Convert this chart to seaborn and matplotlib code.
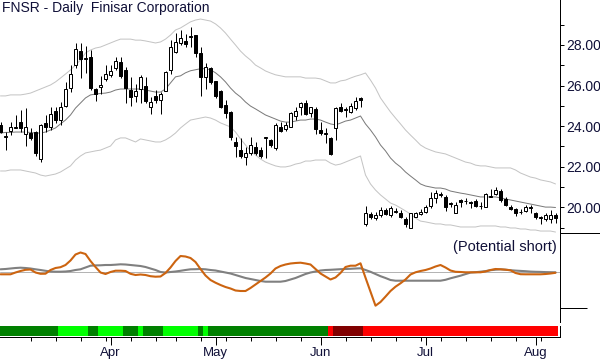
import matplotlib
matplotlib.use("Agg")
import matplotlib.pyplot as plt
import matplotlib.lines as mlines
import numpy as np
import pandas as pd
import seaborn as sns

# trading days on the chart (Feb 28 - Aug 7 2014)
holidays = ['2014-04-18', '2014-05-26', '2014-07-04']
days = pd.bdate_range('2014-02-28', '2014-08-07')
days = days[~days.isin(pd.to_datetime(holidays))]

month_starts = ['2014-04-01', '2014-05-01', '2014-06-02', '2014-07-01', '2014-08-01']
month_labels = ['Apr', 'May', 'Jun', 'Jul', 'Aug']

opens = [24.05, 23.45, 23.75, 23.9, 24.2, 23.6, 23.66, 23.7, 22.4, 24.15,
         23.95, 24.75, 24.3, 25.0, 25.9, 27.0, 27.7, 27.3, 27.4, 25.85,
         25.95, 26.3, 26.5, 26.85, 27.15, 26.75, 25.8, 25.5, 25.85, 26.0,
         24.95, 25.5, 25.3, 25.75, 26.75, 27.65, 28.1, 28.2, 28.4, 28.5,
         27.6, 26.4, 26.85, 26.25, 25.75, 25.05, 24.7, 23.2, 22.8, 22.5,
         22.7, 22.95, 22.8, 23.4, 23.3, 22.9, 23.95, 23.85, 23.95, 24.5,
         24.95, 25.15, 24.65, 24.85, 23.8, 23.6, 23.4, 23.9, 24.95, 24.8,
         24.7, 24.9, 25.4, 19.2, 19.65, 19.45, 19.6, 19.85, 19.6, 19.75,
         19.7, 19.4, 19.0, 19.5, 19.65, 19.75, 20.05, 20.45, 20.6, 20.5,
         20.15, 19.7, 20.35, 20.3, 20.25, 20.3, 20.05, 20.0, 20.5, 20.65,
         20.8, 20.4, 20.0, 19.9, 19.75, 19.8, 19.98, 19.7, 19.48, 19.4,
         19.4, 19.6]
highs = [24.2, 23.7, 24.2, 24.55, 24.8, 24.9, 23.9, 23.75, 24.1, 24.55,
         24.95, 24.95, 25.2, 26.2, 27.0, 28.1, 28.1, 27.95, 27.75, 25.9,
         26.45, 27.0, 27.0, 27.4, 27.4, 26.9, 26.4, 26.1, 26.5, 26.4,
         25.45, 25.8, 25.7, 26.7, 28.25, 28.6, 28.75, 28.55, 28.9, 28.5,
         27.9, 27.1, 26.9, 26.25, 25.8, 25.3, 24.75, 23.45, 23.4, 22.95,
         23.45, 23.2, 22.95, 23.45, 23.35, 24.15, 24.2, 24.2, 24.7, 24.95,
         25.2, 25.3, 24.95, 24.95, 24.2, 23.9, 23.45, 24.95, 25.15, 24.95,
         25.15, 25.45, 25.45, 20.05, 19.75, 19.75, 20.0, 19.95, 20.05, 19.95,
         19.85, 19.5, 19.7, 19.75, 19.9, 20.1, 20.75, 20.85, 20.75, 20.6,
         20.25, 20.25, 20.4, 20.45, 20.3, 20.4, 20.25, 20.7, 20.9, 21.0,
         20.9, 20.5, 20.1, 19.95, 19.9, 20.1, 20.1, 19.75, 19.55, 19.7,
         19.85, 19.7]
lows = [23.65, 22.8, 23.55, 23.9, 23.7, 23.0, 23.3, 22.55, 22.25, 23.7,
        23.8, 24.15, 24.05, 24.95, 25.7, 26.85, 26.35, 26.6, 25.8, 25.25,
        25.6, 26.25, 26.4, 26.75, 26.35, 25.15, 25.0, 25.2, 25.15, 25.15,
        24.6, 25.15, 24.6, 25.75, 26.55, 27.6, 28.0, 27.9, 27.9, 27.4,
        25.5, 25.85, 26.1, 25.4, 24.9, 24.4, 23.3, 22.5, 22.45, 22.1,
        22.6, 22.6, 22.45, 22.45, 22.95, 22.8, 23.7, 23.75, 23.95, 24.3,
        24.55, 24.55, 24.45, 23.6, 23.55, 23.15, 22.6, 23.3, 24.7, 24.45,
        24.65, 24.8, 24.95, 19.1, 19.4, 19.35, 19.5, 19.6, 19.5, 19.7,
        19.45, 19.05, 19.0, 19.5, 19.6, 19.7, 19.95, 20.2, 20.5, 19.8,
        20.0, 19.7, 20.0, 20.15, 19.95, 20.0, 19.9, 20.0, 20.5, 20.6,
        20.25, 20.05, 19.85, 19.55, 19.65, 19.75, 19.7, 19.4, 19.2, 19.3,
        19.25, 19.25]
closes = [23.7, 23.5, 23.95, 23.98, 23.9, 23.95, 23.4, 22.7, 24.05, 23.95,
          24.6, 24.3, 24.95, 25.85, 26.55, 27.8, 27.3, 27.35, 25.9, 25.6,
          26.05, 26.55, 26.7, 27.2, 26.45, 25.9, 25.45, 25.75, 26.4, 25.25,
          25.2, 25.3, 25.6, 26.65, 27.9, 28.15, 28.35, 28.05, 28.45, 27.6,
          26.4, 26.9, 26.2, 25.5, 24.95, 24.65, 23.45, 23.0, 22.55, 22.7,
          23.05, 22.7, 22.55, 23.45, 23.05, 24.05, 23.75, 24.05, 24.65, 24.75,
          25.15, 24.6, 24.95, 23.85, 23.65, 23.65, 22.65, 24.9, 24.75, 24.85,
          25.0, 25.25, 25.3, 19.7, 19.5, 19.6, 19.85, 19.65, 19.95, 19.8,
          19.5, 19.2, 19.7, 19.7, 19.75, 20.0, 20.45, 20.7, 20.65, 20.0,
          20.2, 20.1, 20.25, 20.32, 20.2, 20.05, 20.08, 20.65, 20.55, 20.85,
          20.35, 20.1, 19.9, 19.7, 19.78, 20.0, 20.0, 19.5, 19.5, 19.6,
          19.6, 19.45]

band_mid = [23.66, 23.69, 23.69, 23.71, 23.71, 23.71, 23.69, 23.66, 23.66, 23.71,
            23.81, 23.91, 24.11, 24.30, 24.55, 24.89, 25.14, 25.39, 25.54, 25.58,
            25.61, 25.63, 25.68, 25.78, 25.83, 25.83, 25.83, 25.83, 25.83, 25.78,
            25.73, 25.68, 25.68, 25.83, 26.13, 26.43, 26.48, 26.63, 26.73, 26.78,
            26.83, 26.83, 26.78, 26.63, 26.43, 26.18, 25.88, 25.63, 25.44, 25.19,
            24.99, 24.85, 24.70, 24.55, 24.45, 24.35, 24.25, 24.20, 24.20, 24.25,
            24.30, 24.30, 24.35, 24.35, 24.30, 24.20, 24.11, 24.06, 24.15, 24.25,
            24.30, 24.40, 24.50, 24.11, 23.81, 23.47, 23.07, 22.78, 22.43, 22.18,
            21.99, 21.74, 21.54, 21.35, 21.15, 21.05, 21.00, 20.95, 20.95, 20.90,
            20.80, 20.75, 20.70, 20.66, 20.61, 20.56, 20.51, 20.51, 20.51, 20.51,
            20.46, 20.41, 20.36, 20.31, 20.26, 20.21, 20.16, 20.11, 20.06, 20.01,
            20.01, 19.99]
band_up = [25.49, 25.49, 25.54, 25.54, 25.54, 25.58, 25.63, 25.73, 25.83, 25.93,
           26.03, 26.18, 26.37, 26.57, 26.77, 27.01, 27.26, 27.61, 27.75, 27.85,
           27.90, 28.00, 28.10, 28.20, 28.29, 28.29, 28.29, 28.24, 28.24, 28.20,
           28.15, 28.10, 28.15, 28.29, 28.49, 28.74, 28.84, 28.99, 29.14, 29.23,
           29.28, 29.23, 29.18, 29.04, 28.84, 28.59, 28.29, 28.00, 27.70, 27.46,
           27.26, 27.01, 26.87, 26.72, 26.62, 26.53, 26.48, 26.43, 26.43, 26.43,
           26.43, 26.37, 26.37, 26.37, 26.33, 26.23, 26.13, 26.13, 26.23, 26.27,
           26.37, 26.46, 26.53, 26.62, 26.27, 25.88, 25.39, 25.04, 24.70, 24.40,
           24.11, 23.81, 23.56, 23.32, 23.07, 22.92, 22.82, 22.73, 22.68, 22.63,
           22.53, 22.43, 22.33, 22.23, 22.18, 22.08, 22.04, 22.04, 21.99, 21.94,
           21.94, 21.94, 21.94, 21.84, 21.69, 21.59, 21.49, 21.44, 21.35, 21.30,
           21.25, 21.15]
band_lo = [21.79, 21.79, 21.84, 21.84, 21.84, 21.79, 21.74, 21.69, 21.59, 21.54,
           21.59, 21.64, 21.74, 21.89, 22.04, 22.33, 22.53, 22.68, 22.73, 22.78,
           22.82, 22.92, 23.02, 23.32, 23.42, 23.42, 23.32, 23.22, 23.37, 23.32,
           23.27, 23.22, 23.22, 23.32, 23.47, 23.66, 23.91, 24.11, 24.30, 24.35,
           24.40, 24.45, 24.40, 24.30, 24.16, 24.06, 23.96, 23.71, 23.37, 23.07,
           22.78, 22.58, 22.38, 22.23, 22.13, 22.04, 21.99, 21.99, 22.04, 22.13,
           22.18, 22.28, 22.28, 22.33, 22.33, 22.33, 22.18, 22.08, 22.13, 22.23,
           22.33, 22.43, 22.53, 21.59, 21.15, 20.85, 20.61, 20.41, 20.21, 20.11,
           19.97, 19.82, 19.67, 19.47, 19.32, 19.28, 19.23, 19.18, 19.18, 19.13,
           19.13, 19.08, 19.03, 19.03, 19.03, 19.03, 19.08, 19.08, 19.08, 19.08,
           19.03, 19.03, 18.98, 18.98, 18.93, 18.93, 18.88, 18.88, 18.83, 18.83,
           18.83, 18.78]

osc_fast = [-2.6, -2.6, -2.6, -0.8, 0.7, 1.9, 2.2, -0.8, -2.1, -2.0,
            1.7, 3.7, 4.5, 6.7, 11.2, 17.2, 19.2, 17.7, 10.7, 4.7,
            -0.8, -2.3, -0.3, 1.0, 1.0, 0.7, -2.1, -3.3, -2.8, -3.3,
            -4.5, -5.0, -4.8, -1.3, 4.2, 10.7, 15.7, 15.2, 13.7, 9.7,
            2.7, -3.8, -8.3, -11.0, -13.3, -15.3, -16.8, -18.8, -19.3, -19.3,
            -16.3, -12.8, -9.3, -5.8, -1.8, 3.2, 5.7, 7.2, 8.2, 8.7,
            9.0, 8.2, 7.2, 2.7, -1.8, -4.8, -7.8, -5.8, -1.3, 4.7,
            6.0, 6.0, 8.4, -6.0, -20.0, -34.0, -30.3, -24.9, -19.3, -15.0,
            -11.6, -7.8, -2.8, -0.6, 0.7, 1.7, 3.2, 5.2, 6.7, 4.2,
            1.2, -0.1, -0.3, -0.6, -0.6, -0.6, -0.6, 0.2, 1.7, 2.7,
            2.4, 2.0, 1.4, -1.3, -2.5, -2.6, -2.6, -2.6, -2.6, -2.3,
            -1.8, -1.1]
osc_slow = [2.4, 2.7, 3.2, 3.7, 4.0, 3.7, 3.2, 2.4, 1.7, 0.9,
            0.2, 0.0, 0.0, 0.2, 0.7, 1.7, 2.4, 4.2, 6.0, 6.3,
            6.4, 6.7, 6.7, 7.0, 7.4, 7.2, 6.7, 6.2, 5.7, 4.7,
            3.2, 1.7, -0.3, -0.8, -0.3, 0.2, 0.9, 1.7, 2.4, 2.5,
            2.7, 2.4, 1.7, 1.2, 0.2, -0.8, -1.8, -3.3, -4.8, -6.3,
            -7.3, -8.3, -9.3, -10.0, -10.0, -10.0, -10.0, -9.3, -7.8, -6.3,
            -4.3, -2.3, -0.8, 0.2, 1.2, 1.7, 1.9, 2.2, 2.5, 2.7,
            2.9, 3.2, 3.4, 1.7, -0.1, -2.3, -4.5, -6.3, -8.3, -9.0,
            -9.0, -9.0, -9.0, -9.0, -9.0, -9.0, -9.0, -9.0, -9.0, -8.1,
            -6.6, -5.3, -4.0, -2.4, -0.9, -0.5, 0.0, 0.6, 1.5, 2.0,
            2.4, 2.0, 1.5, 1.1, 0.8, 0.5, 0.1, -0.1, -0.2, -0.4,
            -0.5, -0.6]

signal_colors = ['#008000', '#00ff00', '#008000', '#00ff00', '#008000', '#00ff00', '#008000',
                 '#00ff00', '#008000', '#00ff00', '#008000', '#ff0000', '#800000', '#ff0000']
signal_lengths = [12, 6, 2, 5, 3, 1, 4, 7, 1, 1, 24, 1, 6, 39]

df = pd.DataFrame({'date': days, 'open': opens, 'high': highs, 'low': lows, 'close': closes,
                   'mid': band_mid, 'up': band_up, 'lo': band_lo,
                   'fast': osc_fast, 'slow': osc_slow})
df['pos'] = np.arange(len(df))
df['signal'] = np.repeat(signal_colors, signal_lengths)

sns.set_theme(style='white')
plt.rcParams['font.family'] = ['Liberation Sans', 'DejaVu Sans']
txt = '#101038'
px = 0.72

W, H = 600, 360
def box(x0, y0, x1, y1):
    return [x0 / W, 1 - y1 / H, (x1 - x0) / W, (y1 - y0) / H]

fig = plt.figure(figsize=(6, 3.6), dpi=100)
ax = fig.add_axes(box(0, 0, 560, 233))
ax_osc = fig.add_axes(box(0, 233, 560, 322))
ax_sig = fig.add_axes(box(0, 326, 560, 337))
xlim = (-0.1, 111.9)

# price panel: bands then candles
sns.lineplot(data=df, x='pos', y='up', ax=ax, color='#c4c4c4', linewidth=px, estimator=None)
sns.lineplot(data=df, x='pos', y='lo', ax=ax, color='#c4c4c4', linewidth=px, estimator=None)
sns.lineplot(data=df, x='pos', y='mid', ax=ax, color='#7a7a7a', linewidth=px, estimator=None)

up = df['close'] >= df['open']
ax.vlines(df['pos'], df['low'], df['high'], color='black', linewidth=px, zorder=3)
body_lo = np.minimum(df['open'], df['close'])
body_h = (df['close'] - df['open']).abs()
ax.bar(df['pos'][up], body_h[up], bottom=body_lo[up], width=0.6,
       facecolor='white', edgecolor='black', linewidth=px, zorder=4)
ax.bar(df['pos'][~up], body_h[~up], bottom=body_lo[~up], width=0.6,
       facecolor='black', edgecolor='black', linewidth=px, zorder=4)

ax.set_xlim(*xlim)
ax.set_ylim(18.733, 30.218)
ax.set(xlabel=None, ylabel=None)
for s in ['left', 'top', 'bottom']:
    ax.spines[s].set_visible(False)
ax.spines['right'].set_color('black')
ax.spines['right'].set_linewidth(px)
ax.yaxis.tick_right()
ax.set_yticks([20, 22, 24, 26, 28])
ax.set_yticklabels(['%.2f' % v for v in [20, 22, 24, 26, 28]])
ax.set_yticks([19, 21, 23, 25, 27, 29], minor=True)
ax.tick_params(axis='y', which='both', direction='out', length=3, width=px,
               color='black', labelsize=10, labelcolor=txt, pad=1.5, right=True)
ax.set_xticks([])

fig.text(2 / W, 1 - 1 / H, 'FNSR - Daily  Finisar Corporation', ha='left', va='top',
         fontsize=10, color=txt)

# oscillator panel
ax_osc.axhline(0, color='#b4b4b4', linewidth=px, zorder=1)
sns.lineplot(data=df, x='pos', y='slow', ax=ax_osc, color='#808080', linewidth=1.5, estimator=None)
sns.lineplot(data=df, x='pos', y='fast', ax=ax_osc, color='#cc6410', linewidth=1.5, estimator=None)
ax_osc.set_xlim(*xlim)
ax_osc.set_ylim(-50.3, 38.7)
ax_osc.set(xlabel=None, ylabel=None)
for s in ['left', 'top', 'bottom']:
    ax_osc.spines[s].set_visible(False)
ax_osc.spines['right'].set_color('black')
ax_osc.spines['right'].set_linewidth(px)
ax_osc.yaxis.tick_right()
ax_osc.set_yticks([-36.3])
ax_osc.set_yticklabels([])
ax_osc.tick_params(axis='y', direction='out', length=19.5, width=px, color='black', right=True)
ax_osc.set_xticks([])
ax_osc.text(111.3, 25, '(Potential short)', ha='right', va='center', fontsize=10.5, color=txt)

# signal strip with date axis
ax_sig.bar(df['pos'], 1, width=1.0, color=df['signal'], linewidth=0)
ax_sig.set_xlim(*xlim)
ax_sig.set_ylim(-0.08, 1)
for s in ['left', 'top']:
    ax_sig.spines[s].set_visible(False)
for s in ['right', 'bottom']:
    ax_sig.spines[s].set_color('black')
    ax_sig.spines[s].set_linewidth(px)
ax_sig.set_yticks([])
month_pos = [days.get_loc(pd.Timestamp(d)) for d in month_starts]
week_pos = [i for i in range(2, len(days)) if days[i].weekday() < days[i - 1].weekday()]
ax_sig.set_xticks(month_pos)
ax_sig.set_xticklabels(month_labels)
ax_sig.set_xticks(week_pos, minor=True)
ax_sig.tick_params(axis='x', which='major', direction='out', length=6, width=px,
                   color='black', labelsize=9.5, labelcolor=txt, pad=1, bottom=True)
ax_sig.tick_params(axis='x', which='minor', direction='out', length=3, width=px,
                   color='black', bottom=True)

# separator between price and oscillator on the scale side
fig.add_artist(mlines.Line2D([560 / W, 1], [1 - 233 / H, 1 - 233 / H], color='black',
                             linewidth=px, transform=fig.transFigure))

fig.savefig('out.png', dpi=100)
